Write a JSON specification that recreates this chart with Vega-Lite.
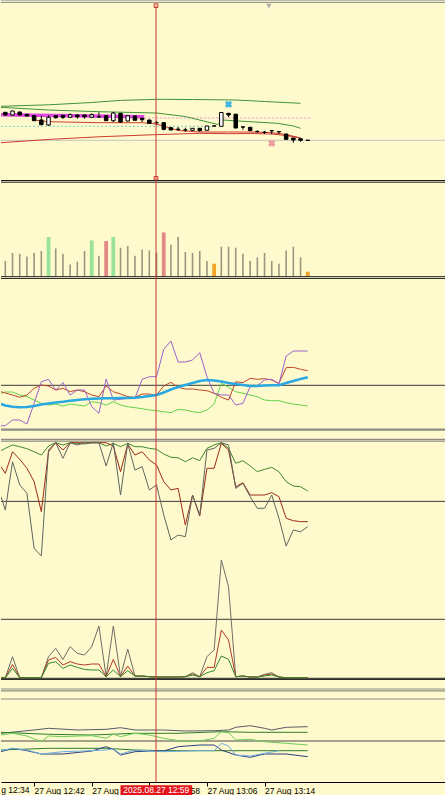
{
  "$schema": "https://vega.github.io/schema/vega-lite/v6.json",
  "background": "#FFFACD",
  "padding": 0,
  "spacing": 0,
  "bounds": "flush",
  "resolve": {"scale": {"color": "independent", "stroke": "independent", "strokeWidth": "independent"}},
  "config": {"view": {"stroke": null}, "axis": {"grid": false}},
  "datasets": {
    "candles": [
      {"m":38,"o":67.7,"h":68,"l":64.7,"c":65},
      {"m":39,"o":65,"h":69.3,"l":64.7,"c":69},
      {"m":40,"o":68,"h":68.3,"l":64.7,"c":65},
      {"m":41,"o":65.7,"h":66,"l":63.7,"c":64},
      {"m":42,"o":64.3,"h":65,"l":59,"c":59.3},
      {"m":43,"o":60,"h":64.3,"l":55,"c":55.3},
      {"m":44,"o":55,"h":64.7,"l":54,"c":62.7},
      {"m":45,"o":64.3,"h":64.5,"l":61.3,"c":62.3},
      {"m":46,"o":64.7,"h":65,"l":61,"c":62.7},
      {"m":47,"o":62.7,"h":66.7,"l":62.5,"c":65.3},
      {"m":48,"o":65,"h":65.2,"l":61.3,"c":63.3},
      {"m":49,"o":65,"h":65.2,"l":61.3,"c":63.3},
      {"m":50,"o":62.7,"h":66.7,"l":62.5,"c":65.3},
      {"m":51,"o":63.2,"h":67.7,"l":62.8,"c":63},
      {"m":52,"o":64.3,"h":64.5,"l":59,"c":59.3},
      {"m":53,"o":59.3,"h":68,"l":58,"c":67},
      {"m":54,"o":66.7,"h":67,"l":57,"c":58},
      {"m":55,"o":59,"h":64.5,"l":58.8,"c":64.3},
      {"m":56,"o":64,"h":64.2,"l":59.5,"c":59.7},
      {"m":57,"o":61.7,"h":62.7,"l":58,"c":60.3},
      {"m":58,"o":60,"h":60.2,"l":56.5,"c":56.7},
      {"m":59,"o":57.4,"h":59.3,"l":55,"c":57.2},
      {"m":60,"o":57.3,"h":57.5,"l":49.7,"c":50.7},
      {"m":61,"o":52.3,"h":52.5,"l":49.5,"c":50},
      {"m":62,"o":50.8,"h":53,"l":49,"c":50.6},
      {"m":63,"o":50.1,"h":52.3,"l":48.3,"c":49.9},
      {"m":64,"o":49.7,"h":51.9,"l":49.5,"c":51.7},
      {"m":65,"o":51.7,"h":51.9,"l":48.3,"c":49.3},
      {"m":66,"o":49.7,"h":54.2,"l":49.5,"c":54},
      {"m":67,"o":54.1,"h":54.3,"l":53.7,"c":53.9},
      {"m":68,"o":53.7,"h":67.7,"l":53.5,"c":67.5},
      {"m":69,"o":66.7,"h":66.9,"l":63,"c":65},
      {"m":70,"o":65.8,"h":66,"l":51.8,"c":52},
      {"m":71,"o":53.1,"h":54,"l":50.3,"c":52.9},
      {"m":72,"o":52.7,"h":52.9,"l":49.1,"c":49.3},
      {"m":73,"o":48.6,"h":49.7,"l":47.5,"c":48.4},
      {"m":74,"o":47.8,"h":49,"l":46,"c":47.6},
      {"m":75,"o":49.4,"h":49.5,"l":45.7,"c":49.2},
      {"m":76,"o":48.4,"h":48.5,"l":46,"c":48.2},
      {"m":77,"o":46,"h":46.2,"l":40.5,"c":40.7},
      {"m":78,"o":42,"h":42.2,"l":37.3,"c":40},
      {"m":79,"o":41.3,"h":41.5,"l":38.3,"c":39.7},
      {"m":80,"o":39.8,"h":39.8,"l":39.6,"c":39.6}
    ],
    "main": [
      {"s":"gu","m":37.4,"v":73.7},{"s":"gu","m":44,"v":75.2},{"s":"gu","m":50,"v":77.5},{"s":"gu","m":54,"v":79.6},{"s":"gu","m":59,"v":80.7},{"s":"gu","m":64,"v":80.5},{"s":"gu","m":70,"v":80},{"s":"gu","m":74,"v":78.5},{"s":"gu","m":79,"v":76.7},
      {"s":"gm","m":37.4,"v":72.7},{"s":"gm","m":44,"v":70},{"s":"gm","m":51,"v":68.3},{"s":"gm","m":59,"v":67},{"s":"gm","m":63,"v":63.5},{"s":"gm","m":67.5,"v":55.5},{"s":"gm","m":68.2,"v":60},{"s":"gm","m":70.3,"v":59},{"s":"gm","m":75.8,"v":56.7},{"s":"gm","m":78,"v":54},{"s":"gm","m":79,"v":51.7},
      {"s":"br","m":37.4,"v":37.3},{"s":"br","m":44.3,"v":40.7},{"s":"br","m":51.3,"v":43.3},{"s":"br","m":58.7,"v":45.3},{"s":"br","m":65,"v":46.7},{"s":"br","m":69,"v":46.3},{"s":"br","m":72,"v":46.5},{"s":"br","m":75,"v":46},{"s":"br","m":77,"v":44.5},{"s":"br","m":79,"v":42},
      {"s":"mr","m":42,"v":60},{"s":"mr","m":44,"v":58.3},{"s":"mr","m":51,"v":57.3},{"s":"mr","m":57,"v":57.3},{"s":"mr","m":59,"v":56},{"s":"mr","m":62,"v":49.5},{"s":"mr","m":65,"v":48},{"s":"mr","m":69,"v":48},{"s":"mr","m":72,"v":48},{"s":"mr","m":75,"v":47.3},{"s":"mr","m":77,"v":45.5},{"s":"mr","m":79,"v":42},
      {"s":"mg","m":37.4,"v":65.3},{"s":"mg","m":57.3,"v":63.3},
      {"s":"pd","m":57.3,"v":62},{"s":"pd","m":80.5,"v":62},
      {"s":"td","m":37.4,"v":53.7},{"s":"td","m":67,"v":53.7}
    ],
    "vol": [
      {"m":38,"v":15.7,"kind":"n"},{"m":39,"v":23.7,"kind":"n"},{"m":40,"v":23,"kind":"n"},{"m":41,"v":20.3,"kind":"n"},{"m":42,"v":23.7,"kind":"n"},{"m":43,"v":25.7,"kind":"n"},{"m":44,"v":39.7,"kind":"up"},{"m":45,"v":28.3,"kind":"n"},{"m":46,"v":23,"kind":"n"},{"m":47,"v":12.3,"kind":"n"},{"m":48,"v":15,"kind":"n"},{"m":49,"v":25.7,"kind":"n"},{"m":50,"v":36.3,"kind":"up"},{"m":51,"v":21,"kind":"n"},{"m":52,"v":35.7,"kind":"down"},{"m":53,"v":39.7,"kind":"up"},{"m":54,"v":29,"kind":"n"},{"m":55,"v":30.7,"kind":"n"},{"m":56,"v":21,"kind":"n"},{"m":57,"v":27.3,"kind":"n"},{"m":58,"v":26.3,"kind":"n"},{"m":59,"v":24,"kind":"n"},{"m":60,"v":44.3,"kind":"down"},{"m":61,"v":32,"kind":"n"},{"m":62,"v":39.7,"kind":"n"},{"m":63,"v":24.7,"kind":"n"},{"m":64,"v":23.7,"kind":"n"},{"m":65,"v":25.7,"kind":"n"},{"m":66,"v":15.7,"kind":"n"},{"m":67,"v":13,"kind":"low"},{"m":68,"v":30,"kind":"n"},{"m":69,"v":30,"kind":"n"},{"m":70,"v":29,"kind":"n"},{"m":71,"v":23,"kind":"n"},{"m":72,"v":15.7,"kind":"n"},{"m":73,"v":19.3,"kind":"n"},{"m":74,"v":23.7,"kind":"n"},{"m":75,"v":15.7,"kind":"n"},{"m":76,"v":13,"kind":"n"},{"m":77,"v":26.3,"kind":"n"},{"m":78,"v":30,"kind":"n"},{"m":79,"v":19.3,"kind":"n"},{"m":80,"v":5,"kind":"low"}
    ],
    "p3": [
      {"m":37.4,"pu":5.3,"rd":39.3,"gr":37.7,"cy":27},
      {"m":38,"pu":5.3,"rd":38,"gr":39,"cy":25.5},
      {"m":39,"pu":11,"rd":36,"gr":39,"cy":24.3},
      {"m":40,"pu":11,"rd":33.7,"gr":36,"cy":23.7},
      {"m":41,"pu":7,"rd":36,"gr":34.3,"cy":24},
      {"m":42,"pu":27.7,"rd":42.7,"gr":31,"cy":25},
      {"m":43,"pu":49.3,"rd":46,"gr":27.7,"cy":26.5},
      {"m":44,"pu":51.7,"rd":45,"gr":26,"cy":27.5},
      {"m":45,"pu":41,"rd":41,"gr":27,"cy":28.5},
      {"m":46,"pu":48.3,"rd":42.7,"gr":25,"cy":29.3},
      {"m":47,"pu":36,"rd":39.3,"gr":27,"cy":30.3},
      {"m":48,"pu":41,"rd":41,"gr":26,"cy":31},
      {"m":49,"pu":41,"rd":39.3,"gr":25,"cy":31.7},
      {"m":50,"pu":24.3,"rd":36,"gr":29.3,"cy":32.2},
      {"m":51,"pu":17.7,"rd":34.3,"gr":28.3,"cy":32.5},
      {"m":52,"pu":52,"rd":45,"gr":26,"cy":32.7},
      {"m":53,"pu":31,"rd":39.3,"gr":29.3,"cy":32.8},
      {"m":54,"pu":31.7,"rd":37,"gr":26,"cy":33},
      {"m":55,"pu":32.7,"rd":34.3,"gr":24.3,"cy":33},
      {"m":56,"pu":32.7,"rd":33.7,"gr":23.3,"cy":33.2},
      {"m":57,"pu":51.7,"rd":37,"gr":22.3,"cy":34},
      {"m":58,"pu":54.3,"rd":37,"gr":21,"cy":35},
      {"m":59,"pu":54.3,"rd":36,"gr":20.3,"cy":36},
      {"m":60,"pu":81.7,"rd":45,"gr":19.3,"cy":38.5},
      {"m":61,"pu":90,"rd":48.7,"gr":18.3,"cy":41.5},
      {"m":62,"pu":69,"rd":43.7,"gr":21.7,"cy":44},
      {"m":63,"pu":69,"rd":42,"gr":21,"cy":46},
      {"m":64,"pu":71,"rd":42,"gr":19.3,"cy":48},
      {"m":65,"pu":78.3,"rd":41,"gr":18.3,"cy":50},
      {"m":66,"pu":54.3,"rd":40.3,"gr":21,"cy":51},
      {"m":67,"pu":37.7,"rd":37.7,"gr":27,"cy":50.5},
      {"m":68,"pu":36,"rd":33.7,"gr":47.7,"cy":49.5},
      {"m":69,"pu":36,"rd":31,"gr":43.7,"cy":48},
      {"m":70,"pu":26,"rd":49.3,"gr":39.3,"cy":47},
      {"m":71,"pu":27.7,"rd":48.3,"gr":37.7,"cy":46},
      {"m":72,"pu":44.3,"rd":52.7,"gr":36,"cy":45},
      {"m":73,"pu":45.3,"rd":51.7,"gr":34.3,"cy":45},
      {"m":74,"pu":51,"rd":52.3,"gr":31,"cy":45.5},
      {"m":75,"pu":51.7,"rd":51,"gr":30.3,"cy":45.7},
      {"m":76,"pu":47,"rd":47.7,"gr":30.3,"cy":45.7},
      {"m":77,"pu":75,"rd":63.3,"gr":28.3,"cy":48},
      {"m":78,"pu":80,"rd":63.7,"gr":27,"cy":50},
      {"m":79,"pu":80,"rd":61.7,"gr":26,"cy":52},
      {"m":80,"pu":80,"rd":60.3,"gr":25,"cy":53.7}
    ],
    "p4": [
      {"m":37.4,"gn":93.2,"rd":79.6,"gy":54},
      {"m":38,"gn":95.2,"rd":73.9,"gy":42.6},
      {"m":39,"gn":98.1,"rd":92.3,"gy":83.8},
      {"m":40,"gn":96.6,"rd":85.9,"gy":64},
      {"m":41,"gn":94.9,"rd":78.2,"gy":56.9},
      {"m":42,"gn":92.3,"rd":66.8,"gy":10},
      {"m":43,"gn":89.5,"rd":41.2,"gy":3.4},
      {"m":44,"gn":97.2,"rd":92.3,"gy":93.8},
      {"m":45,"gn":100,"rd":100,"gy":100},
      {"m":46,"gn":98.1,"rd":93.8,"gy":86.7},
      {"m":47,"gn":100,"rd":100,"gy":100},
      {"m":48,"gn":99.5,"rd":100,"gy":98.1},
      {"m":49,"gn":98.9,"rd":100,"gy":100},
      {"m":50,"gn":100,"rd":100,"gy":100},
      {"m":51,"gn":100,"rd":100,"gy":100},
      {"m":52,"gn":97.2,"rd":100,"gy":80.2},
      {"m":53,"gn":99.5,"rd":97.2,"gy":100},
      {"m":54,"gn":96.6,"rd":75.3,"gy":55.4},
      {"m":55,"gn":99.5,"rd":98.9,"gy":99.5},
      {"m":56,"gn":96.6,"rd":89.5,"gy":76.7},
      {"m":57,"gn":96.6,"rd":92.3,"gy":79.6},
      {"m":58,"gn":95.2,"rd":85.3,"gy":59.7},
      {"m":59,"gn":94.4,"rd":81,"gy":64},
      {"m":60,"gn":90.4,"rd":66.8,"gy":38.4},
      {"m":61,"gn":87.6,"rd":59.7,"gy":17.1},
      {"m":62,"gn":87.2,"rd":61.1,"gy":21.3},
      {"m":63,"gn":83.8,"rd":29.8,"gy":19.9},
      {"m":64,"gn":87.2,"rd":55.4,"gy":55.4},
      {"m":65,"gn":84.7,"rd":37.5,"gy":38.4},
      {"m":66,"gn":95.2,"rd":78.2,"gy":93.8},
      {"m":67,"gn":98.1,"rd":78.2,"gy":95.2},
      {"m":68,"gn":100,"rd":99.5,"gy":100},
      {"m":69,"gn":95.2,"rd":93.8,"gy":98.1},
      {"m":70,"gn":82.5,"rd":62.5,"gy":61.1},
      {"m":71,"gn":84.7,"rd":65.9,"gy":65.4},
      {"m":72,"gn":80.2,"rd":55.4,"gy":54},
      {"m":73,"gn":75.3,"rd":55.4,"gy":44.1},
      {"m":74,"gn":77.3,"rd":55.4,"gy":44.1},
      {"m":75,"gn":79,"rd":57.4,"gy":55.4},
      {"m":76,"gn":75.3,"rd":54,"gy":35.6},
      {"m":77,"gn":66.8,"rd":35.6,"gy":11.9},
      {"m":78,"gn":63.1,"rd":33.5,"gy":25.6},
      {"m":79,"gn":62.5,"rd":32.7,"gy":24.1},
      {"m":80,"gn":58.8,"rd":32.7,"gy":28.4}
    ],
    "p5": [
      {"m":37.4,"gy":0,"rd":0,"gn":0},{"m":38,"gy":0,"rd":0,"gn":0},{"m":39,"gy":21,"rd":13.3,"gn":9.3},{"m":40,"gy":0,"rd":0,"gn":0},{"m":41,"gy":0,"rd":0,"gn":0},{"m":42,"gy":0,"rd":0,"gn":0},{"m":43,"gy":0,"rd":0,"gn":0},
      {"m":44,"gy":21,"rd":17.7,"gn":14.3},{"m":45,"gy":29.3,"rd":20.3,"gn":16},{"m":46,"gy":18.3,"rd":12.7,"gn":9.3},{"m":47,"gy":31,"rd":16,"gn":12.7},{"m":48,"gy":24.3,"rd":13.7,"gn":10.3},{"m":49,"gy":22.7,"rd":12.7,"gn":8.3},{"m":50,"gy":31,"rd":13.7,"gn":7.7},{"m":51,"gy":51.7,"rd":13.7,"gn":7.7},{"m":52,"gy":1,"rd":1,"gn":1},{"m":53,"gy":51.7,"rd":18.3,"gn":7.7},{"m":54,"gy":1,"rd":1,"gn":1},{"m":55,"gy":28.7,"rd":11.7,"gn":7},{"m":56,"gy":1.7,"rd":1.7,"gn":1.7},{"m":57,"gy":1.7,"rd":1.7,"gn":1.7},{"m":58,"gy":1,"rd":1,"gn":1},{"m":59,"gy":0.7,"rd":0.7,"gn":0.7},{"m":60,"gy":0.7,"rd":0.7,"gn":0.7},{"m":61,"gy":0.7,"rd":0.7,"gn":0.7},{"m":62,"gy":0.7,"rd":0.7,"gn":0.7},{"m":63,"gy":1,"rd":1,"gn":1},{"m":64,"gy":5,"rd":3.7,"gn":2.7},{"m":65,"gy":1,"rd":1,"gn":1},{"m":66,"gy":21,"rd":10.3,"gn":5},{"m":67,"gy":27.7,"rd":10.3,"gn":7},{"m":68,"gy":117.7,"rd":47.7,"gn":21.7},{"m":69,"gy":91,"rd":37.7,"gn":18.3},{"m":70,"gy":1,"rd":1,"gn":1},{"m":71,"gy":1.7,"rd":1.7,"gn":1.7},{"m":72,"gy":0.7,"rd":0.7,"gn":0.7},{"m":73,"gy":0.7,"rd":0.7,"gn":0.7},{"m":74,"gy":3.3,"rd":2.7,"gn":1.7},{"m":75,"gy":5,"rd":3.7,"gn":2.7},{"m":76,"gy":0.7,"rd":0.7,"gn":0.7},{"m":77,"gy":0,"rd":0,"gn":0},{"m":78,"gy":0,"rd":0,"gn":0},{"m":79,"gy":0,"rd":0,"gn":0},{"m":80,"gy":0,"rd":0,"gn":0}
    ],
    "p6": [
      {"s":"u","m":37.4,"v":48.7},{"s":"u","m":42,"v":52},{"s":"u","m":44,"v":53.7},{"s":"u","m":48,"v":52},{"s":"u","m":52,"v":52.7},{"s":"u","m":54,"v":54.3},{"s":"u","m":56,"v":52},{"s":"u","m":60,"v":52},{"s":"u","m":63,"v":51},{"s":"u","m":67,"v":51.3},{"s":"u","m":69,"v":52},{"s":"u","m":70,"v":54.7},{"s":"u","m":72,"v":56.3},{"s":"u","m":74,"v":53.7},{"s":"u","m":75,"v":52},{"s":"u","m":77,"v":54.7},{"s":"u","m":80,"v":55.3},
      {"s":"g1","m":37.4,"v":49.7},{"s":"g1","m":44,"v":47.7},{"s":"g1","m":50,"v":47},{"s":"g1","m":56,"v":48.7},{"s":"g1","m":62,"v":48.7},{"s":"g1","m":68,"v":50.3},{"s":"g1","m":72,"v":49.7},{"s":"g1","m":80,"v":49.7},
      {"s":"lg","m":37.4,"v":47},{"s":"lg","m":39,"v":48.7},{"s":"lg","m":41,"v":46},{"s":"lg","m":43,"v":40.3},{"s":"lg","m":44,"v":46},{"s":"lg","m":46,"v":45.3},{"s":"lg","m":48,"v":46},{"s":"lg","m":50,"v":46.3},{"s":"lg","m":52,"v":43.7},{"s":"lg","m":53,"v":48},{"s":"lg","m":54,"v":45.3},{"s":"lg","m":56,"v":48.7},{"s":"lg","m":58,"v":47},{"s":"lg","m":60,"v":43.7},{"s":"lg","m":63,"v":40.3},{"s":"lg","m":65,"v":41},{"s":"lg","m":67,"v":43.7},{"s":"lg","m":68,"v":50.3},{"s":"lg","m":69,"v":49.3},{"s":"lg","m":70,"v":42},{"s":"lg","m":72,"v":42.7},{"s":"lg","m":74,"v":40.3},{"s":"lg","m":77,"v":38.7},{"s":"lg","m":80,"v":37},
      {"s":"g2","m":37.4,"v":32},{"s":"g2","m":44,"v":33.7},{"s":"g2","m":52,"v":33.7},{"s":"g2","m":56,"v":32},{"s":"g2","m":60,"v":31.3},{"s":"g2","m":80,"v":31.3},
      {"s":"n","m":37.4,"v":30.3},{"s":"n","m":39,"v":33.7},{"s":"n","m":41,"v":31.3},{"s":"n","m":43,"v":28},{"s":"n","m":46,"v":28},{"s":"n","m":50,"v":31},{"s":"n","m":52,"v":35.3},{"s":"n","m":53,"v":32.7},{"s":"n","m":54,"v":27},{"s":"n","m":56,"v":30.3},{"s":"n","m":58,"v":31},{"s":"n","m":60,"v":31},{"s":"n","m":62,"v":35.3},{"s":"n","m":65,"v":37},{"s":"n","m":67,"v":37},{"s":"n","m":68,"v":32},{"s":"n","m":70,"v":27},{"s":"n","m":72,"v":24.7},{"s":"n","m":74,"v":28},{"s":"n","m":77,"v":28},{"s":"n","m":80,"v":25.3},
      {"s":"lb","m":37.4,"v":31.3},{"s":"lb","m":39,"v":33.7},{"s":"lb","m":41,"v":32},{"s":"lb","m":43,"v":28},{"s":"lb","m":46,"v":30.3},{"s":"lb","m":50,"v":31.3},{"s":"lb","m":52,"v":32},{"s":"lb","m":53,"v":33.3},{"s":"lb","m":54,"v":28},{"s":"lb","m":56,"v":32},{"s":"lb","m":60,"v":30.3},{"s":"lb","m":65,"v":31.3},{"s":"lb","m":67,"v":31.3},{"s":"lb","m":68,"v":38.7},{"s":"lb","m":69,"v":36},{"s":"lb","m":70,"v":27},{"s":"lb","m":72,"v":26},{"s":"lb","m":74,"v":28.7},{"s":"lb","m":76,"v":31.3}
    ]
  },
  "vconcat": [
    {
      "width": 445, "height": 180,
      "layer": [
        {"data": {"name": "main"}, "transform": [{"filter": "datum.s == 'td'"}],
         "mark": {"type": "line", "color": "#78d4c4", "strokeDash": [2, 2], "strokeWidth": 1, "clip": true},
         "encoding": {"x": {"field": "m", "type": "quantitative", "scale": {"domain": [37.4, 99.2], "nice": false, "zero": false, "padding": 0}, "axis": null},
                      "y": {"field": "v", "type": "quantitative", "scale": {"domain": [0, 180], "nice": false, "zero": false, "padding": 0}, "axis": null}}},
        {"data": {"values": [{"v": 39.7, "k": "a"}, {"v": 179.4, "k": "b"}, {"v": 177.6, "k": "c"}]},
         "mark": {"type": "rule", "clip": true},
         "encoding": {"y": {"field": "v", "type": "quantitative", "axis": null},
                      "color": {"field": "k", "type": "nominal", "scale": {"domain": ["a", "b", "c"], "range": ["#c4c4bc", "#b4b4ac", "#8a8a84"]}, "legend": null},
                      "strokeWidth": {"field": "k", "type": "nominal", "scale": {"domain": ["a", "b", "c"], "range": [1, 1, 1.6]}, "legend": null}}},
        {"data": {"name": "main"}, "transform": [{"filter": "datum.s == 'pd'"}],
         "mark": {"type": "line", "color": "#e890d0", "strokeDash": [2, 2], "strokeWidth": 1, "clip": true},
         "encoding": {"x": {"field": "m", "type": "quantitative", "axis": null}, "y": {"field": "v", "type": "quantitative", "axis": null}}},
        {"data": {"name": "main"}, "transform": [{"filter": "datum.s == 'mg'"}],
         "mark": {"type": "line", "color": "#e048e0", "strokeWidth": 3.5, "clip": true},
         "encoding": {"x": {"field": "m", "type": "quantitative", "axis": null}, "y": {"field": "v", "type": "quantitative", "axis": null}}},
        {"data": {"name": "main"}, "transform": [{"filter": "datum.s == 'gu' || datum.s == 'gm'"}],
         "mark": {"type": "line", "color": "#3f943a", "strokeWidth": 1, "clip": true},
         "encoding": {"x": {"field": "m", "type": "quantitative", "axis": null}, "y": {"field": "v", "type": "quantitative", "axis": null}, "detail": {"field": "s", "type": "nominal"}}},
        {"data": {"name": "main"}, "transform": [{"filter": "datum.s == 'br' || datum.s == 'mr'"}],
         "mark": {"type": "line", "color": "#cf3a30", "strokeWidth": 1, "clip": true},
         "encoding": {"x": {"field": "m", "type": "quantitative", "axis": null}, "y": {"field": "v", "type": "quantitative", "axis": null}, "detail": {"field": "s", "type": "nominal"}}},
        {"data": {"name": "candles"},
         "mark": {"type": "rule", "color": "#000000", "strokeWidth": 1},
         "encoding": {"x": {"field": "m", "type": "quantitative", "axis": null}, "y": {"field": "l", "type": "quantitative", "axis": null}, "y2": {"field": "h"}}},
        {"data": {"name": "candles"},
         "mark": {"type": "bar", "size": 3.5, "stroke": "#000000", "strokeWidth": 1},
         "encoding": {"x": {"field": "m", "type": "quantitative", "axis": null}, "y": {"field": "o", "type": "quantitative", "axis": null}, "y2": {"field": "c"},
                      "fill": {"condition": {"test": "datum.c > datum.o", "value": "#ffffff"}, "value": "#000000"}}},
        {"data": {"values": [{"m": 69, "v": 75.7}]},
         "mark": {"type": "point", "shape": "cross", "angle": 45, "filled": true, "size": 55, "opacity": 1, "color": "#3fb4e0"},
         "encoding": {"x": {"field": "m", "type": "quantitative", "axis": null}, "y": {"field": "v", "type": "quantitative", "axis": null}}},
        {"data": {"values": [{"m": 75, "v": 36.7}]},
         "mark": {"type": "point", "shape": "cross", "angle": 45, "filled": true, "size": 55, "opacity": 1, "color": "#ee9a9a"},
         "encoding": {"x": {"field": "m", "type": "quantitative", "axis": null}, "y": {"field": "v", "type": "quantitative", "axis": null}}},
        {"data": {"values": [{"m": 74.6, "v": 173.8}]},
         "mark": {"type": "point", "shape": "triangle-down", "filled": true, "size": 30, "color": "#b0b0b0", "opacity": 1},
         "encoding": {"x": {"field": "m", "type": "quantitative", "axis": null}, "y": {"field": "v", "type": "quantitative", "axis": null}}},
        {"data": {"values": [{"m": 58.93, "v": 174.3, "v2": 0}]}, "mark": {"type": "rule", "color": "#cc3333", "strokeWidth": 1},
         "encoding": {"x": {"field": "m", "type": "quantitative", "axis": null}, "y": {"field": "v", "type": "quantitative", "axis": null}, "y2": {"field": "v2"}}},
        {"data": {"values": [{"m": 58.93, "v": 174.3}, {"m": 58.93, "v": 1.7}]},
         "mark": {"type": "point", "shape": "square", "filled": false, "size": 14, "color": "#cc3333", "strokeWidth": 1, "opacity": 1},
         "encoding": {"x": {"field": "m", "type": "quantitative", "axis": null}, "y": {"field": "v", "type": "quantitative", "axis": null}}}
      ]
    },
    {
      "width": 445, "height": 99,
      "layer": [
        {"data": {"name": "vol"}, "transform": [{"filter": "datum.kind == 'n'"}],
         "mark": {"type": "bar", "color": "#9a9680", "size": 1.6},
         "encoding": {"x": {"field": "m", "type": "quantitative", "scale": {"domain": [37.4, 99.2], "nice": false, "zero": false, "padding": 0}, "axis": null},
                      "y": {"field": "v", "type": "quantitative", "scale": {"domain": [-2.3, 96.7], "nice": false, "zero": false, "padding": 0}, "axis": null, "stack": null}}},
        {"data": {"name": "vol"}, "transform": [{"filter": "datum.kind != 'n'"}],
         "mark": {"type": "bar", "size": 3.8},
         "encoding": {"x": {"field": "m", "type": "quantitative", "axis": null},
                      "y": {"field": "v", "type": "quantitative", "axis": null, "stack": null},
                      "color": {"field": "kind", "type": "nominal", "scale": {"domain": ["up", "down", "low"], "range": ["#98e29a", "#e48a86", "#f0a42a"]}, "legend": null}}},
        {"data": {"values": [{"v": 96.2}, {"v": 94.5}, {"v": 0}, {"v": -1.9}]},
         "mark": {"type": "rule", "color": "#1a1a1a", "strokeWidth": 1, "clip": true},
         "encoding": {"y": {"field": "v", "type": "quantitative", "axis": null}}},
        {"data": {"values": [{"m": 58.93}]}, "mark": {"type": "rule", "color": "#cc3333", "strokeWidth": 1},
         "encoding": {"x": {"field": "m", "type": "quantitative", "axis": null}}}
      ]
    },
    {
      "width": 445, "height": 152,
      "layer": [
        {"data": {"values": [{"v": 45.7, "k": "a"}, {"v": 1.3, "k": "b"}]},
         "mark": {"type": "rule", "clip": true},
         "encoding": {"y": {"field": "v", "type": "quantitative", "scale": {"domain": [0, 152], "nice": false, "zero": false, "padding": 0}, "axis": null},
                      "color": {"field": "k", "type": "nominal", "scale": {"domain": ["a", "b"], "range": ["#3a3a3a", "#8c8c84"]}, "legend": null},
                      "strokeWidth": {"field": "k", "type": "nominal", "scale": {"domain": ["a", "b"], "range": [1, 2.2]}, "legend": null}}},
        {"data": {"name": "p3"}, "transform": [{"fold": ["gr", "rd", "pu"], "as": ["s", "v"]}],
         "mark": {"type": "line", "strokeWidth": 1, "clip": true},
         "encoding": {"x": {"field": "m", "type": "quantitative", "scale": {"domain": [37.4, 99.2], "nice": false, "zero": false, "padding": 0}, "axis": null},
                      "y": {"field": "v", "type": "quantitative", "axis": null},
                      "stroke": {"field": "s", "type": "nominal", "scale": {"domain": ["gr", "rd", "pu"], "range": ["#62d448", "#c0442a", "#9a62c8"]}, "legend": null}}},
        {"data": {"name": "p3"},
         "mark": {"type": "line", "strokeWidth": 2.6, "color": "#2aa8e2", "clip": true},
         "encoding": {"x": {"field": "m", "type": "quantitative", "axis": null}, "y": {"field": "cy", "type": "quantitative", "axis": null}}},
        {"data": {"values": [{"m": 58.93}]}, "mark": {"type": "rule", "color": "#cc3333", "strokeWidth": 1},
         "encoding": {"x": {"field": "m", "type": "quantitative", "axis": null}}}
      ]
    },
    {
      "width": 445, "height": 129,
      "layer": [
        {"data": {"values": [{"v": 102.9, "k": "b"}, {"v": 101.4, "k": "b"}, {"v": 50, "k": "a"}]},
         "mark": {"type": "rule", "clip": true},
         "encoding": {"y": {"field": "v", "type": "quantitative", "scale": {"domain": [0, 110], "nice": false, "zero": false, "padding": 0}, "axis": null},
                      "color": {"field": "k", "type": "nominal", "scale": {"domain": ["a", "b"], "range": ["#3a3a3a", "#8c8c84"]}, "legend": null},
                      "strokeWidth": {"field": "k", "type": "nominal", "scale": {"domain": ["a", "b"], "range": [1, 1.2]}, "legend": null}}},
        {"data": {"name": "p4"}, "transform": [{"fold": ["gn", "rd", "gy"], "as": ["s", "v"]}],
         "mark": {"type": "line", "strokeWidth": 1, "clip": true},
         "encoding": {"x": {"field": "m", "type": "quantitative", "scale": {"domain": [37.4, 99.2], "nice": false, "zero": false, "padding": 0}, "axis": null},
                      "y": {"field": "v", "type": "quantitative", "axis": null},
                      "stroke": {"field": "s", "type": "nominal", "scale": {"domain": ["gn", "rd", "gy"], "range": ["#3d8a2d", "#9e2a1a", "#5e665e"]}, "legend": null}}},
        {"data": {"values": [{"m": 58.93}]}, "mark": {"type": "rule", "color": "#cc3333", "strokeWidth": 1},
         "encoding": {"x": {"field": "m", "type": "quantitative", "axis": null}}}
      ]
    },
    {
      "width": 445, "height": 120,
      "layer": [
        {"data": {"values": [{"v": 58.4, "k": "a"}, {"v": -0.6, "k": "b"}, {"v": -1.9, "k": "b"}]},
         "mark": {"type": "rule", "strokeWidth": 1, "clip": true},
         "encoding": {"y": {"field": "v", "type": "quantitative", "scale": {"domain": [-2.3, 117.7], "nice": false, "zero": false, "padding": 0}, "axis": null},
                      "color": {"field": "k", "type": "nominal", "scale": {"domain": ["a", "b"], "range": ["#3a3a3a", "#1a1a1a"]}, "legend": null}}},
        {"data": {"name": "p5"}, "transform": [{"fold": ["gy", "rd", "gn"], "as": ["s", "v"]}],
         "mark": {"type": "line", "strokeWidth": 1, "clip": true},
         "encoding": {"x": {"field": "m", "type": "quantitative", "scale": {"domain": [37.4, 99.2], "nice": false, "zero": false, "padding": 0}, "axis": null},
                      "y": {"field": "v", "type": "quantitative", "axis": null},
                      "stroke": {"field": "s", "type": "nominal", "scale": {"domain": ["gy", "rd", "gn"], "range": ["#6e6e66", "#b03a2a", "#2f8a2a"]}, "legend": null}}},
        {"data": {"values": [{"m": 58.93}]}, "mark": {"type": "rule", "color": "#cc3333", "strokeWidth": 1},
         "encoding": {"x": {"field": "m", "type": "quantitative", "axis": null}}}
      ]
    },
    {
      "width": 445, "height": 102,
      "encoding": {
        "x": {"field": "m", "type": "quantitative", "scale": {"domain": [37.4, 99.2], "nice": false, "zero": false, "padding": 0},
              "axis": {"values": [42, 50, 58, 66, 74],
                       "labelExpr": "'27 Aug ' + (datum.value < 60 ? '12:' + datum.value : '13:' + (datum.value < 70 ? '0' : '') + (datum.value - 60))",
                       "labelAlign": "left", "labelBaseline": "top", "labelPadding": 0, "tickSize": 4,
                       "tickColor": "#000000", "domainColor": "#000000", "labelColor": "#000000",
                       "labelFont": "Liberation Sans", "labelFontSize": 8.5, "labelFlush": false, "labelOverlap": false,
                       "labelBound": false, "title": null, "grid": false}}
      },
      "layer": [
        {"data": {"values": [{"m": 37.4, "m2": 99.2, "v": 93, "k": "b"}, {"m": 37.4, "m2": 99.2, "v": 91.2, "k": "b"}, {"m": 37.4, "m2": 99.2, "v": 83, "k": "b"}, {"m": 37.4, "m2": 99.2, "v": 41, "k": "a"}]},
         "mark": {"type": "rule"},
         "encoding": {"x2": {"field": "m2"},
                      "y": {"field": "v", "type": "quantitative", "scale": {"domain": [0, 102], "nice": false, "zero": false, "padding": 0}, "axis": null},
                      "color": {"field": "k", "type": "nominal", "scale": {"domain": ["a", "b"], "range": ["#4a4a4a", "#8c8c84"]}, "legend": null},
                      "strokeWidth": {"field": "k", "type": "nominal", "scale": {"domain": ["a", "b"], "range": [1, 1.2]}, "legend": null}}},
        {"data": {"name": "p6"},
         "mark": {"type": "line", "strokeWidth": 1, "clip": true},
         "encoding": {"y": {"field": "v", "type": "quantitative", "axis": null},
                      "stroke": {"field": "s", "type": "nominal", "scale": {"domain": ["u", "g1", "g2", "lg", "n", "lb"], "range": ["#5a5a6a", "#2d7d2d", "#2d7d2d", "#6ccc5a", "#2f3f80", "#70aee0"]}, "legend": null}}},
        {"data": {"values": [{"m": 58.93}]}, "mark": {"type": "rule", "color": "#cc3333", "strokeWidth": 1},
         "encoding": {}},
        {"data": {"values": [{"m": 54.0, "m2": 63.95, "c": -3.3, "d": -13}]}, "mark": {"type": "rect", "color": "#e3141c"},
         "encoding": {"x2": {"field": "m2"}, "y": {"field": "c", "type": "quantitative", "axis": null}, "y2": {"field": "d"}}},
        {"data": {"values": [{"m": 58.96, "v": -8.3, "t": "2025.08.27 12:59"}]},
         "mark": {"type": "text", "color": "#ffffff", "font": "Liberation Sans", "fontSize": 8.5, "align": "center", "baseline": "middle"},
         "encoding": {"y": {"field": "v", "type": "quantitative", "axis": null}, "text": {"field": "t", "type": "nominal"}}},
        {"data": {"values": [{"m": 37.43, "v": -4, "t": "g 12:34"}]},
         "mark": {"type": "text", "color": "#000000", "font": "Liberation Sans", "fontSize": 8.5, "align": "left", "baseline": "top"},
         "encoding": {"y": {"field": "v", "type": "quantitative", "axis": null}, "text": {"field": "t", "type": "nominal"}}}
      ]
    }
  ]
}
